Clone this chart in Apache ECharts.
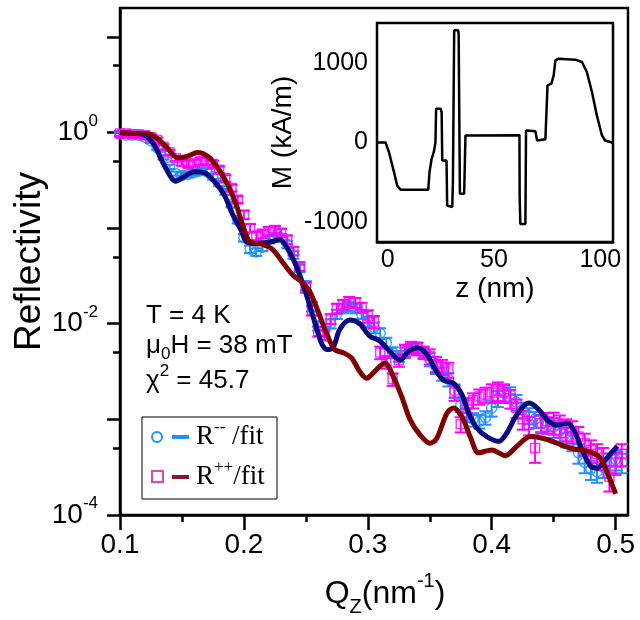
<!DOCTYPE html>
<html>
<head>
<meta charset="utf-8">
<script src="https://cdn.jsdelivr.net/npm/echarts@6/dist/echarts.min.js"></script>
<style>html,body{margin:0;background:#fff}#chart{width:640px;height:620px}</style>
</head>
<body>
<div id="chart"></div>
<script>
// measured Q grid (nm^-1)
const qData = [0.100,0.105,0.110,0.115,0.120,0.125,0.130,0.135,0.140,0.145,
  0.150,0.155,0.160,0.165,0.170,0.175,0.180,0.185,0.190,0.195,
  0.200,0.205,0.210,0.215,0.220,0.225,0.230,0.235,0.240,0.245,
  0.250,0.255,0.260,0.265,0.270,0.275,0.280,0.285,0.290,0.295,
  0.300,0.305,0.310,0.315,0.320,0.325,0.330,0.335,0.340,0.345,
  0.350,0.355,0.360,0.365,0.370,0.375,0.380,0.385,0.390,0.395,
  0.400,0.405,0.410,0.415,0.420,0.425,0.430,0.435,0.440,0.445,
  0.450,0.455,0.460,0.465,0.470,0.475,0.480,0.485,0.490,0.495,
  0.500,0.505];
// exponents (log10 R)
const rMinusExp = [-0.02,-0.03,-0.03,-0.03,-0.05,-0.09,-0.16,-0.26,-0.36,-0.43,
  -0.45,-0.44,-0.42,-0.40,-0.41,-0.46,-0.53,-0.62,-0.75,-0.92,
  -1.10,-1.22,-1.25,-1.20,-1.12,-1.09,-1.10,-1.17,-1.28,-1.42,
  -1.60,-1.82,-2.02,-2.08,-2.00,-1.90,-1.84,-1.82,-1.84,-1.90,
  -1.98,-2.04,-2.10,-2.20,-2.30,-2.34,-2.30,-2.26,-2.25,-2.30,
  -2.37,-2.45,-2.52,-2.58,-2.70,-2.85,-2.95,-3.00,-3.02,-2.98,
  -2.88,-2.78,-2.72,-2.74,-2.82,-2.90,-2.96,-3.00,-3.04,-3.06,
  -3.08,-3.12,-3.18,-3.22,-3.35,-3.45,-3.52,-3.55,-3.50,-3.45,
  -3.42,-3.45];
const rPlusExp = [-0.01,-0.01,-0.02,-0.02,-0.03,-0.05,-0.08,-0.15,-0.21,-0.27,
  -0.31,-0.33,-0.32,-0.30,-0.30,-0.33,-0.39,-0.48,-0.58,-0.70,
  -0.86,-1.00,-1.08,-1.06,-1.03,-1.02,-1.05,-1.12,-1.24,-1.40,
  -1.62,-1.86,-2.08,-2.12,-1.95,-1.84,-1.80,-1.77,-1.78,-1.83,
  -1.92,-1.98,-2.30,-2.40,-2.58,-2.38,-2.28,-2.25,-2.26,-2.30,
  -2.34,-2.42,-2.45,-2.48,-2.72,-3.05,-2.85,-2.80,-2.76,-2.74,
  -2.72,-2.70,-2.72,-2.78,-2.88,-3.00,-3.06,-3.30,-3.04,-3.02,
  -3.03,-3.06,-3.10,-3.12,-3.18,-3.25,-3.32,-3.36,-3.40,-3.60,
  -3.45,-3.36];
// relative errors
const errMinus = [0.05,0.05,0.05,0.05,0.05,0.05,0.05,0.05,0.05,0.05,
  0.07,0.07,0.07,0.07,0.07,0.07,0.07,0.07,0.07,0.07,
  0.09,0.09,0.09,0.09,0.09,0.09,0.09,0.09,0.09,0.09,
  0.11,0.11,0.11,0.11,0.11,0.11,0.11,0.11,0.11,0.11,
  0.13,0.13,0.13,0.13,0.13,0.13,0.13,0.13,0.13,0.13,
  0.16,0.16,0.16,0.16,0.16,0.16,0.16,0.16,0.16,0.16,
  0.19,0.19,0.19,0.19,0.19,0.19,0.19,0.19,0.19,0.19,
  0.23,0.23,0.23,0.23,0.23,0.23,0.23,0.23,0.23,0.23,
  0.23,0.23];
const errPlus = [0.06,0.06,0.06,0.06,0.06,0.06,0.06,0.06,0.06,0.06,
  0.08,0.08,0.08,0.08,0.08,0.08,0.08,0.08,0.08,0.08,
  0.10,0.10,0.10,0.10,0.10,0.10,0.10,0.10,0.10,0.10,
  0.12,0.12,0.12,0.12,0.12,0.12,0.12,0.12,0.12,0.12,
  0.15,0.15,0.15,0.15,0.15,0.15,0.15,0.15,0.15,0.15,
  0.18,0.18,0.18,0.18,0.18,0.18,0.18,0.18,0.18,0.18,
  0.22,0.22,0.22,0.22,0.22,0.22,0.22,0.30,0.22,0.22,
  0.26,0.26,0.26,0.26,0.26,0.26,0.26,0.26,0.26,0.30,
  0.26,0.26];

// fit curves
const fitMinusQ = [0.100,0.110,0.119,0.1275,0.1356,0.145,0.152,0.160,0.168,0.176,
  0.184,0.191,0.198,0.2018,0.208,0.215,0.223,0.229,0.2355,0.2423,
  0.249,0.2557,0.2625,0.267,0.272,0.2773,0.2854,0.2935,0.3016,0.3097,
  0.3178,0.326,0.3326,0.3407,0.3475,0.3556,0.361,0.369,0.3759,0.3813,
  0.388,0.396,0.4057,0.4123,0.4204,0.4298,0.4366,0.446,0.4528,0.4609,
  0.4662,0.473,0.4798,0.4852,0.4919,0.5014];
const fitMinusExp = [0.00,-0.01,-0.02,-0.13,-0.34,-0.51,-0.46,-0.41,-0.42,-0.51,
  -0.65,-0.86,-1.03,-1.14,-1.16,-1.155,-1.14,-1.12,-1.22,-1.40,
  -1.64,-1.92,-2.20,-2.27,-2.25,-2.06,-1.96,-2.00,-2.13,-2.18,
  -2.29,-2.38,-2.29,-2.25,-2.32,-2.50,-2.59,-2.62,-2.74,-2.93,
  -3.09,-3.18,-3.23,-3.14,-2.95,-2.83,-2.88,-3.02,-3.06,-3.04,
  -3.11,-3.32,-3.49,-3.51,-3.42,-3.28];
const fitPlusQ = [0.100,0.1113,0.122,0.130,0.138,0.1464,0.1545,0.1626,0.1707,0.1788,
  0.1869,0.1937,0.1985,0.2045,0.215,0.2233,0.2314,0.2395,0.2463,0.253,
  0.2598,0.2666,0.2733,0.2814,0.287,0.2935,0.299,0.307,0.3138,0.3205,
  0.3273,0.334,0.342,0.3502,0.3556,0.3637,0.369,0.3759,0.3826,0.3893,
  0.396,0.4001,0.4109,0.4204,0.4312,0.442,0.4528,0.4636,0.4717,0.4798,
  0.4879,0.4946,0.500];
const fitPlusExp = [0.00,-0.01,-0.01,-0.06,-0.16,-0.265,-0.25,-0.21,-0.25,-0.37,
  -0.545,-0.75,-0.95,-1.14,-1.17,-1.225,-1.36,-1.49,-1.56,-1.66,
  -1.87,-2.10,-2.27,-2.31,-2.36,-2.50,-2.57,-2.48,-2.41,-2.55,
  -2.76,-3.00,-3.16,-3.25,-3.20,-2.94,-2.88,-2.97,-3.18,-3.35,
  -3.33,-3.32,-3.38,-3.28,-3.18,-3.20,-3.25,-3.30,-3.32,-3.34,
  -3.41,-3.60,-3.78];

// inset magnetization profile
const profileZ = [-5,-1,0.6,3.0,4.5,6.1,19.1,19.7,20.7,21.7,22.5,22.8,24.9,25.4,25.7,27.7,28.0,30.4,30.7,31.3,
  33.2,33.4,34.0,36.0,36.6,37.0,62.0,62.1,62.4,64.8,65.1,69.5,70.3,70.8,74.2,75.2,77.0,78.1,78.9,80.4,
  88.3,91.4,93.7,96.1,98.4,100.8,102.3,105.5,106];
const profileM = [0,0,-120,-373,-540,-595,-595,-373,-205,-122,0,424,424,380,-226,-226,-792,-810,-499,1409,
  1409,1350,-645,-645,88,92,92,-667,-1023,-1023,151,140,25,15,40,717,738,843,1031,1052,
  1040,1010,884,633,340,88,25,0,0];

const qTicks = [0.1, 0.2, 0.3, 0.4, 0.5];
const qMinorTicks = [0.15, 0.25, 0.35, 0.45];
const decadeTicks = [-4, -3, -2, -1, 0, 1];
const decadeLabels = [-4, -2, 0];
const halfDecadeTicks = [-3.301, -2.301, -1.301, -0.301, 0.699];
const zTicks = [0, 25, 50, 75, 100];
const zLabels = [0, 50, 100];
const mTicks = [-1000, -500, 0, 500, 1000];
const mLabels = [-1000, 0, 1000];

const FONT = 'Liberation Sans, Arial, sans-serif';
const SERIF = 'Liberation Serif, Times New Roman, serif';
const BLUE = '#1e90ff';
const MAGENTA = '#ff00ff';
const NAVY = '#0a0a80';
const DARKRED = '#800000';

const yMaxExp = Math.log10(20);

const pow10 = (e) => Math.pow(10, e);
const minusPts = qData.map((q, i) => [q, pow10(rMinusExp[i])]);
const plusPts = qData.map((q, i) => [q, pow10(rPlusExp[i])]);
const minusBars = qData.map((q, i) => {
  const r = pow10(rMinusExp[i]);
  return [q, r * (1 - errMinus[i]), r * (1 + errMinus[i])];
});
const plusBars = qData.map((q, i) => {
  const r = pow10(rPlusExp[i]);
  return [q, r * (1 - errPlus[i]), r * (1 + errPlus[i])];
});
const fitMinus = fitMinusQ.map((q, i) => [q, pow10(fitMinusExp[i])]);
const fitPlus = fitPlusQ.map((q, i) => [q, pow10(fitPlusExp[i])]);
const profile = profileZ.map((z, i) => [z, profileM[i]]);

// error bar with caps
function errBar(color) {
  return function (params, api) {
    const top = api.coord([api.value(0), api.value(2)]);
    const bot = api.coord([api.value(0), api.value(1)]);
    const w = 6;
    const style = { stroke: color, lineWidth: 2, fill: null };
    return {
      type: 'group',
      children: [
        { type: 'line', shape: { x1: top[0], y1: top[1], x2: bot[0], y2: bot[1] }, style },
        { type: 'line', shape: { x1: top[0] - w, y1: top[1], x2: top[0] + w, y2: top[1] }, style },
        { type: 'line', shape: { x1: bot[0] - w, y1: bot[1], x2: bot[0] + w, y2: bot[1] }, style }
      ]
    };
  };
}

const blackLine = { onZero: false, lineStyle: { color: '#000', width: 2.5 } };
const noLine = { show: false, onZero: false };
const tickStyle = { color: '#000', width: 2.5 };

const chart = echarts.init(document.getElementById('chart'));

const option = {
  backgroundColor: '#fff',
  animation: false,
  textStyle: { fontFamily: FONT, color: '#000' },
  grid: [
    { left: 120, right: 12, top: 8, bottom: 105, show: true, borderColor: '#000', borderWidth: 2.5, outerBoundsMode: 'none', containLabel: false },
    { left: 377, right: 27, top: 23, height: 219, show: true, borderColor: '#000', borderWidth: 2.5, backgroundColor: '#fff', z: 5, outerBoundsMode: 'none', containLabel: false }
  ],
  xAxis: [
    {
      type: 'value', gridIndex: 0, min: 0.1, max: 0.51, position: 'bottom',
      axisLine: blackLine,
      axisTick: { customValues: qTicks, length: 15, lineStyle: tickStyle },
      axisLabel: { customValues: qTicks, fontSize: 28, color: '#000', margin: 16, formatter: (v) => v.toFixed(1) },
      splitLine: { show: false },
      name: '{b|Q}{sub|Z}{b|(nm}{sup|-1}{b|)}',
      nameLocation: 'middle', nameGap: 56,
      nameTextStyle: {
        padding: [0, 0, 0, 22],
        rich: {
          b: { fontSize: 32, fontFamily: FONT, color: '#000', lineHeight: 46 },
          sub: { fontSize: 20, fontFamily: FONT, color: '#000', verticalAlign: 'bottom', lineHeight: 46 },
          sup: { fontSize: 20, fontFamily: FONT, color: '#000', verticalAlign: 'top', lineHeight: 46 }
        }
      }
    },
    {
      type: 'value', gridIndex: 0, min: 0.1, max: 0.51, position: 'bottom', offset: 0,
      axisLine: noLine,
      axisTick: { customValues: qMinorTicks, length: 7, lineStyle: tickStyle },
      axisLabel: { show: false },
      splitLine: { show: false }
    },
    {
      type: 'value', gridIndex: 1, min: -5, max: 106, position: 'bottom',
      axisLine: blackLine,
      axisTick: { inside: true, customValues: zTicks, length: 8, lineStyle: tickStyle },
      axisLabel: { customValues: zLabels, fontSize: 25, color: '#000', margin: 6, formatter: (v) => String(v) },
      splitLine: { show: false },
      name: 'z (nm)', nameLocation: 'middle', nameGap: 33,
      nameTextStyle: { fontSize: 28, color: '#000' }
    }
  ],
  yAxis: [
    {
      type: 'log', gridIndex: 0, min: 1e-4, max: 20, logBase: 10, position: 'left',
      axisLine: blackLine,
      axisTick: { show: false },
      axisLabel: { show: false },
      splitLine: { show: false },
      name: 'Reflectivity', nameLocation: 'middle', nameGap: 72,
      nameTextStyle: { fontSize: 37, color: '#000' }
    },
    {
      type: 'value', gridIndex: 0, min: -4, max: yMaxExp, position: 'left', offset: 0,
      axisLine: noLine,
      axisTick: { customValues: decadeTicks, length: 13, lineStyle: tickStyle },
      axisLabel: {
        customValues: decadeLabels, margin: 22,
        formatter: (v) => '{b|10}{s|' + Math.round(v) + '}',
        rich: {
          b: { fontSize: 28, fontFamily: FONT, color: '#000', lineHeight: 40 },
          s: { fontSize: 17, fontFamily: FONT, color: '#000', verticalAlign: 'top', lineHeight: 40 }
        }
      },
      splitLine: { show: false }
    },
    {
      type: 'value', gridIndex: 0, min: -4, max: yMaxExp, position: 'left', offset: 0,
      axisLine: noLine,
      axisTick: { customValues: halfDecadeTicks, length: 7, lineStyle: tickStyle },
      axisLabel: { show: false },
      splitLine: { show: false }
    },
    {
      type: 'value', gridIndex: 1, min: -1250, max: 1500, position: 'left',
      axisLine: blackLine,
      axisTick: { inside: true, customValues: mTicks, length: 8, lineStyle: tickStyle },
      axisLabel: { customValues: mLabels, fontSize: 25, color: '#000', margin: 9, formatter: (v) => String(v) },
      splitLine: { show: false },
      name: 'M (kA/m)', nameLocation: 'middle', nameGap: 80,
      nameTextStyle: { fontSize: 28, color: '#000' }
    }
  ],
  series: [
    {
      type: 'custom', xAxisIndex: 0, yAxisIndex: 0, renderItem: errBar(BLUE),
      encode: { x: 0, y: [1, 2] }, data: minusBars, silent: true, z: 2
    },
    {
      type: 'scatter', xAxisIndex: 0, yAxisIndex: 0, data: minusPts, symbol: 'circle', symbolSize: 10,
      itemStyle: { color: 'rgba(0,0,0,0)', borderColor: BLUE, borderWidth: 1.5 }, silent: true, z: 3
    },
    {
      type: 'custom', xAxisIndex: 0, yAxisIndex: 0, renderItem: errBar(MAGENTA),
      encode: { x: 0, y: [1, 2] }, data: plusBars, silent: true, z: 4
    },
    {
      type: 'scatter', xAxisIndex: 0, yAxisIndex: 0, data: plusPts, symbol: 'rect', symbolSize: 9,
      itemStyle: { color: 'rgba(0,0,0,0)', borderColor: MAGENTA, borderWidth: 1.5 }, silent: true, z: 5
    },
    {
      type: 'line', xAxisIndex: 0, yAxisIndex: 0, data: fitMinus, showSymbol: false, smooth: 0.3,
      lineStyle: { color: NAVY, width: 5 }, silent: true, z: 6
    },
    {
      type: 'line', xAxisIndex: 0, yAxisIndex: 0, data: fitPlus, showSymbol: false, smooth: 0.3,
      lineStyle: { color: DARKRED, width: 5 }, silent: true, z: 7
    },
    {
      type: 'line', xAxisIndex: 2, yAxisIndex: 3, data: profile, showSymbol: false,
      lineStyle: { color: '#000', width: 2.5 }, silent: true, z: 8
    }
  ],
  graphic: [
    { type: 'text', left: 146, top: 303, style: { text: 'T = 4 K', font: '26px ' + FONT, fill: '#000' } },
    {
      type: 'text', left: 146, top: 333,
      style: {
        text: '{a|μ}{s|0}{a|H = 38 mT}',
        rich: {
          a: { fontSize: 26, fontFamily: FONT, fill: '#000', lineHeight: 34 },
          s: { fontSize: 17, fontFamily: FONT, fill: '#000', verticalAlign: 'bottom', lineHeight: 34 }
        }
      }
    },
    {
      type: 'text', left: 146, top: 363,
      style: {
        text: '{a|χ}{s|2}{a| = 45.7}',
        rich: {
          a: { fontSize: 26, fontFamily: FONT, fill: '#000', lineHeight: 36 },
          s: { fontSize: 17, fontFamily: FONT, fill: '#000', verticalAlign: 'top', lineHeight: 36 }
        }
      }
    },
    {
      type: 'rect', shape: { x: 142, y: 417, width: 135, height: 82 },
      style: { fill: '#fff', stroke: '#000', lineWidth: 1 }, z: 20
    },
    { type: 'circle', shape: { cx: 157, cy: 437, r: 5 }, style: { fill: null, stroke: BLUE, lineWidth: 2 }, z: 21 },
    { type: 'line', shape: { x1: 172, y1: 437, x2: 189, y2: 437 }, style: { stroke: BLUE, lineWidth: 4 }, z: 21 },
    {
      type: 'text', x: 196, y: 437, z: 21,
      style: {
        text: '{a|R}{s|--}{a| /fit}', verticalAlign: 'middle',
        rich: {
          a: { fontSize: 27, fontFamily: SERIF, fill: '#000', lineHeight: 36 },
          s: { fontSize: 17, fontFamily: SERIF, fill: '#000', verticalAlign: 'top', lineHeight: 36 }
        }
      }
    },
    { type: 'rect', shape: { x: 152, y: 471, width: 11, height: 11 }, style: { fill: null, stroke: '#ef3fbf', lineWidth: 2 }, z: 21 },
    { type: 'line', shape: { x1: 172, y1: 477, x2: 189, y2: 477 }, style: { stroke: '#8b1538', lineWidth: 4 }, z: 21 },
    {
      type: 'text', x: 196, y: 477, z: 21,
      style: {
        text: '{a|R}{s|++}{a|/fit}', verticalAlign: 'middle',
        rich: {
          a: { fontSize: 27, fontFamily: SERIF, fill: '#000', lineHeight: 36 },
          s: { fontSize: 17, fontFamily: SERIF, fill: '#000', verticalAlign: 'top', lineHeight: 36 }
        }
      }
    }
  ]
};

chart.setOption(option);
</script>
</body>
</html>
